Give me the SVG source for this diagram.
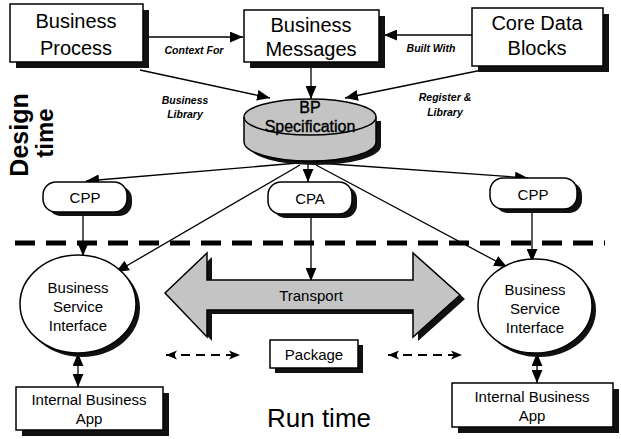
<svg xmlns="http://www.w3.org/2000/svg" width="621" height="439" viewBox="0 0 621 439">
<defs>
<style>
.box{fill:#fff;stroke:#000;stroke-width:1.5}
.sh{fill:#111}
.t{font-family:"Liberation Sans",Arial,sans-serif;fill:#000;text-anchor:middle}
.big{font-size:20px}
.mid{font-size:15px}
.lab{font-size:10.5px;font-style:italic;font-weight:bold}
.ln{stroke:#000;stroke-width:1.3;fill:none}
.gray{fill:#c4c4c4;stroke:#000;stroke-width:1.5}
</style>
<marker id="ah" viewBox="0 0 12 10" refX="12" refY="5" markerWidth="13" markerHeight="11" markerUnits="userSpaceOnUse" orient="auto-start-reverse">
<path d="M0,0 L12,5 L0,10 Z" fill="#000"/>
</marker>
<marker id="ahs" viewBox="0 0 12 10" refX="12" refY="5" markerWidth="11" markerHeight="10" markerUnits="userSpaceOnUse" orient="auto-start-reverse">
<path d="M0,0 L12,5 L0,10 L3,5 Z" fill="#000"/>
</marker>
</defs>
<rect width="621" height="439" fill="#fff"/>

<g id="connectors">
<line class="ln" x1="143" y1="37" x2="243" y2="37" marker-end="url(#ah)"/>
<line class="ln" x1="472" y1="35" x2="384" y2="35" marker-end="url(#ah)"/>
<line class="ln" x1="140" y1="70" x2="270" y2="98" marker-end="url(#ah)"/>
<line class="ln" x1="311" y1="68" x2="311" y2="99" marker-end="url(#ah)"/>
<line class="ln" x1="482" y1="70" x2="345" y2="98" marker-end="url(#ah)"/>
<line class="ln" x1="298" y1="163" x2="86" y2="181" marker-end="url(#ah)"/>
<line class="ln" x1="308" y1="163" x2="308" y2="182" marker-end="url(#ah)"/>
<line class="ln" x1="318" y1="163" x2="528" y2="178" marker-end="url(#ah)"/>
<line class="ln" x1="300" y1="165" x2="116" y2="272" marker-end="url(#ah)"/>
<line class="ln" x1="316" y1="165" x2="507" y2="267" marker-end="url(#ah)"/>
<line class="ln" x1="83" y1="212" x2="83" y2="256" marker-end="url(#ah)"/>
<line class="ln" x1="532" y1="210" x2="532" y2="262" marker-end="url(#ah)"/>
<line class="ln" x1="311" y1="215" x2="311" y2="281" marker-end="url(#ah)"/>
<line class="ln" x1="78" y1="353" x2="78" y2="387" marker-start="url(#ah)" marker-end="url(#ah)"/>
<line class="ln" x1="537" y1="353" x2="537" y2="383" marker-start="url(#ah)" marker-end="url(#ah)"/>
<line x1="15" y1="243" x2="605" y2="243" stroke="#000" stroke-width="5" stroke-dasharray="20,11"/>
<line x1="166" y1="355" x2="240" y2="355" stroke="#000" stroke-width="2" stroke-dasharray="9,6" marker-start="url(#ahs)" marker-end="url(#ahs)"/>
<line x1="388" y1="355" x2="462" y2="355" stroke="#000" stroke-width="2" stroke-dasharray="9,6" marker-start="url(#ahs)" marker-end="url(#ahs)"/>
<text class="t lab" x="194" y="54">Context For</text>
<text class="t lab" x="431" y="52">Built With</text>
<text class="t lab" x="185" y="104">Business</text>
<text class="t lab" x="185" y="118">Library</text>
<text class="t lab" x="445" y="101">Register &amp;</text>
<text class="t lab" x="445" y="116">Library</text>
</g>

<g id="business-process">
<rect class="sh" x="16" y="10" width="133" height="58"/>
<rect class="box" x="10" y="4" width="133" height="58"/>
<text class="t big" x="76" y="28">Business</text>
<text class="t big" x="76" y="55">Process</text>
</g>

<g id="business-messages">
<rect class="sh" x="250" y="16" width="135" height="52"/>
<rect class="box" x="244" y="10" width="135" height="52"/>
<text class="t big" x="311" y="32">Business</text>
<text class="t big" x="311" y="56">Messages</text>
</g>

<g id="core-data-blocks">
<rect class="sh" x="478" y="14" width="131" height="58"/>
<rect class="box" x="472" y="8" width="131" height="58"/>
<text class="t big" x="537" y="30">Core Data</text>
<text class="t big" x="537" y="55">Blocks</text>
</g>

<g id="bp-specification">
<path class="sh" d="M249,121 L249,146 A66,19 0 0 0 381,146 L381,121 Z"/>
<path class="gray" d="M244,117 L244,142 A66,19 0 0 0 376,142 L376,117"/>
<ellipse class="gray" cx="310" cy="117" rx="66" ry="18"/>
<text class="t" font-size="16" stroke="#000" stroke-width="0.4" x="310" y="113">BP</text>
<text class="t" font-size="16" stroke="#000" stroke-width="0.4" x="310" y="132">Specification</text>
</g>

<g id="cpp-left">
<rect class="sh" x="48" y="186" width="84" height="30" rx="13"/>
<rect class="box" x="43" y="182" width="84" height="30" rx="13"/>
<text class="t mid" x="85" y="203">CPP</text>
</g>

<g id="cpa">
<rect class="sh" x="273" y="186" width="84" height="32" rx="13"/>
<rect class="box" x="268" y="182" width="84" height="32" rx="13"/>
<text class="t mid" x="310" y="204">CPA</text>
</g>

<g id="cpp-right">
<rect class="sh" x="495" y="182" width="87" height="31" rx="13"/>
<rect class="box" x="490" y="178" width="87" height="31" rx="13"/>
<text class="t mid" x="533" y="200">CPP</text>
</g>

<g id="bsi-left">
<ellipse class="sh" cx="82" cy="308" rx="58" ry="49"/>
<ellipse class="box" cx="78" cy="304" rx="58" ry="49"/>
<text class="t mid" x="78" y="293">Business</text>
<text class="t mid" x="78" y="312">Service</text>
<text class="t mid" x="78" y="331">Interface</text>
</g>

<g id="bsi-right">
<ellipse class="sh" cx="539" cy="310" rx="57" ry="47"/>
<ellipse class="box" cx="535" cy="306" rx="57" ry="47"/>
<text class="t mid" x="535" y="295">Business</text>
<text class="t mid" x="535" y="314">Service</text>
<text class="t mid" x="535" y="333">Interface</text>
</g>

<g id="transport">
<path class="sh" d="M170,297 L212,257 L212,284 L418,284 L418,257 L465,299 L418,341 L418,314 L212,314 L212,341 Z"/>
<path class="gray" d="M165,293 L207,253 L207,280 L413,280 L413,253 L460,295 L413,337 L413,310 L207,310 L207,337 Z"/>
<text class="t mid" x="311" y="301">Transport</text>
</g>

<g id="package">
<rect class="sh" x="275" y="345" width="88" height="28"/>
<rect class="box" x="270" y="340" width="88" height="28"/>
<text class="t mid" x="314" y="360">Package</text>
</g>

<g id="internal-app-left">
<rect class="sh" x="22" y="393" width="147" height="43"/>
<rect class="box" x="16" y="387" width="147" height="43"/>
<text class="t mid" x="89" y="405">Internal Business</text>
<text class="t mid" x="89" y="424">App</text>
</g>

<g id="internal-app-right">
<rect class="sh" x="458" y="389" width="161" height="44"/>
<rect class="box" x="452" y="383" width="161" height="44"/>
<text class="t mid" x="532" y="402">Internal Business</text>
<text class="t mid" x="532" y="421">App</text>
</g>

<g id="labels">
<text class="t" font-size="25" font-weight="bold" transform="translate(28,135) rotate(-90)">Design</text>
<text class="t" font-size="24" font-weight="bold" transform="translate(53,133) rotate(-90)">time</text>
<text class="t" font-size="26" x="319" y="427">Run time</text>
</g>
</svg>
